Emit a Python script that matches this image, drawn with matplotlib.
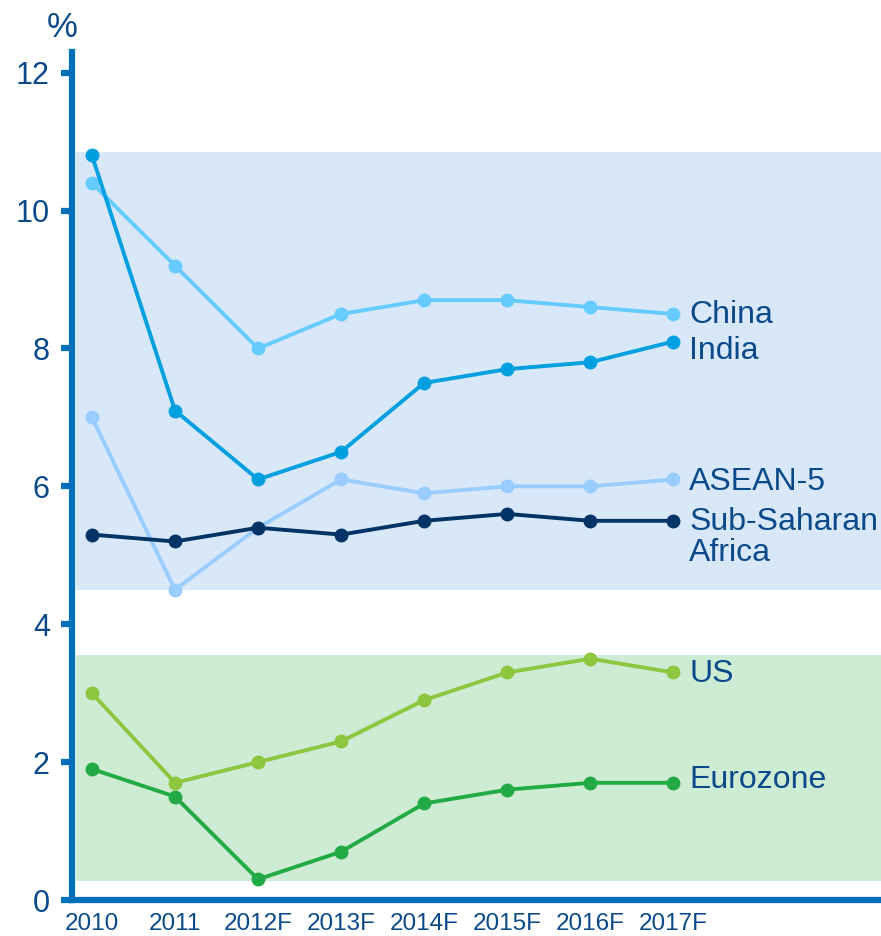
import matplotlib.pyplot as plt

plt.rcParams['font.family'] = ['Liberation Sans', 'DejaVu Sans']

years = ['2010', '2011', '2012F', '2013F', '2014F', '2015F', '2016F', '2017F']

china = [10.4, 9.2, 8.0, 8.5, 8.7, 8.7, 8.6, 8.5]
india = [10.8, 7.1, 6.1, 6.5, 7.5, 7.7, 7.8, 8.1]
asean5 = [7.0, 4.5, 5.4, 6.1, 5.9, 6.0, 6.0, 6.1]
ssa = [5.3, 5.2, 5.4, 5.3, 5.5, 5.6, 5.5, 5.5]
us = [3.0, 1.7, 2.0, 2.3, 2.9, 3.3, 3.5, 3.3]
eurozone = [1.9, 1.5, 0.3, 0.7, 1.4, 1.6, 1.7, 1.7]

# shaded ranges
emerging_band = (4.5, 10.85)
advanced_band = (0.27, 3.55)

# series: values, colour, label, label y
series = [
    (china, '#66ccff', 'China', 8.48),
    (india, '#00a0e0', 'India', 7.96),
    (asean5, '#99ccff', 'ASEAN-5', 6.06),
    (ssa, '#003366', 'Sub-Saharan\nAfrica', 5.26),
    (us, '#8dc63f', 'US', 3.28),
    (eurozone, '#22aa44', 'Eurozone', 1.74),
]

text_col = '#0a4a8a'
axis_col = '#0070ba'

fig = plt.figure(figsize=(8.81, 9.36), dpi=100)
ax = fig.add_axes([72 / 881, 36 / 936, 1 - 72 / 881, 848 / 936])

x = list(range(len(years)))

# background bands
ax.axhspan(*emerging_band, xmin=0.005, xmax=1, color='#d9e8f8', lw=0, zorder=0)
ax.axhspan(*advanced_band, xmin=0.005, xmax=1, color='#ceebd4', lw=0, zorder=0)

for vals, col, name, ly in series:
    ax.plot(x, vals, color=col, lw=2.8, marker='o', ms=9, zorder=3)
    ax.text(7.19, ly, name, color=text_col, fontsize=23, va='center',
            ha='left', linespacing=1.05)

ax.set_xlim(-0.24, 9.5)
ax.set_ylim(0, 12.3)

ax.set_yticks(range(0, 13, 2))
ax.set_xticks(x)
ax.set_xticklabels(years)

for s in ['top', 'right']:
    ax.spines[s].set_visible(False)
for s in ['left', 'bottom']:
    ax.spines[s].set_color(axis_col)
    ax.spines[s].set_linewidth(4.5)

ax.tick_params(axis='y', colors=axis_col, length=8, width=4.5,
               labelsize=22, labelcolor=text_col, pad=8)
ax.tick_params(axis='x', length=0, labelsize=17.5, labelcolor=text_col, pad=9)

ax.text(-0.36, 12.42, '%', color=text_col, fontsize=25, ha='center',
        va='bottom', clip_on=False)

fig.savefig('out.png', dpi=100)
